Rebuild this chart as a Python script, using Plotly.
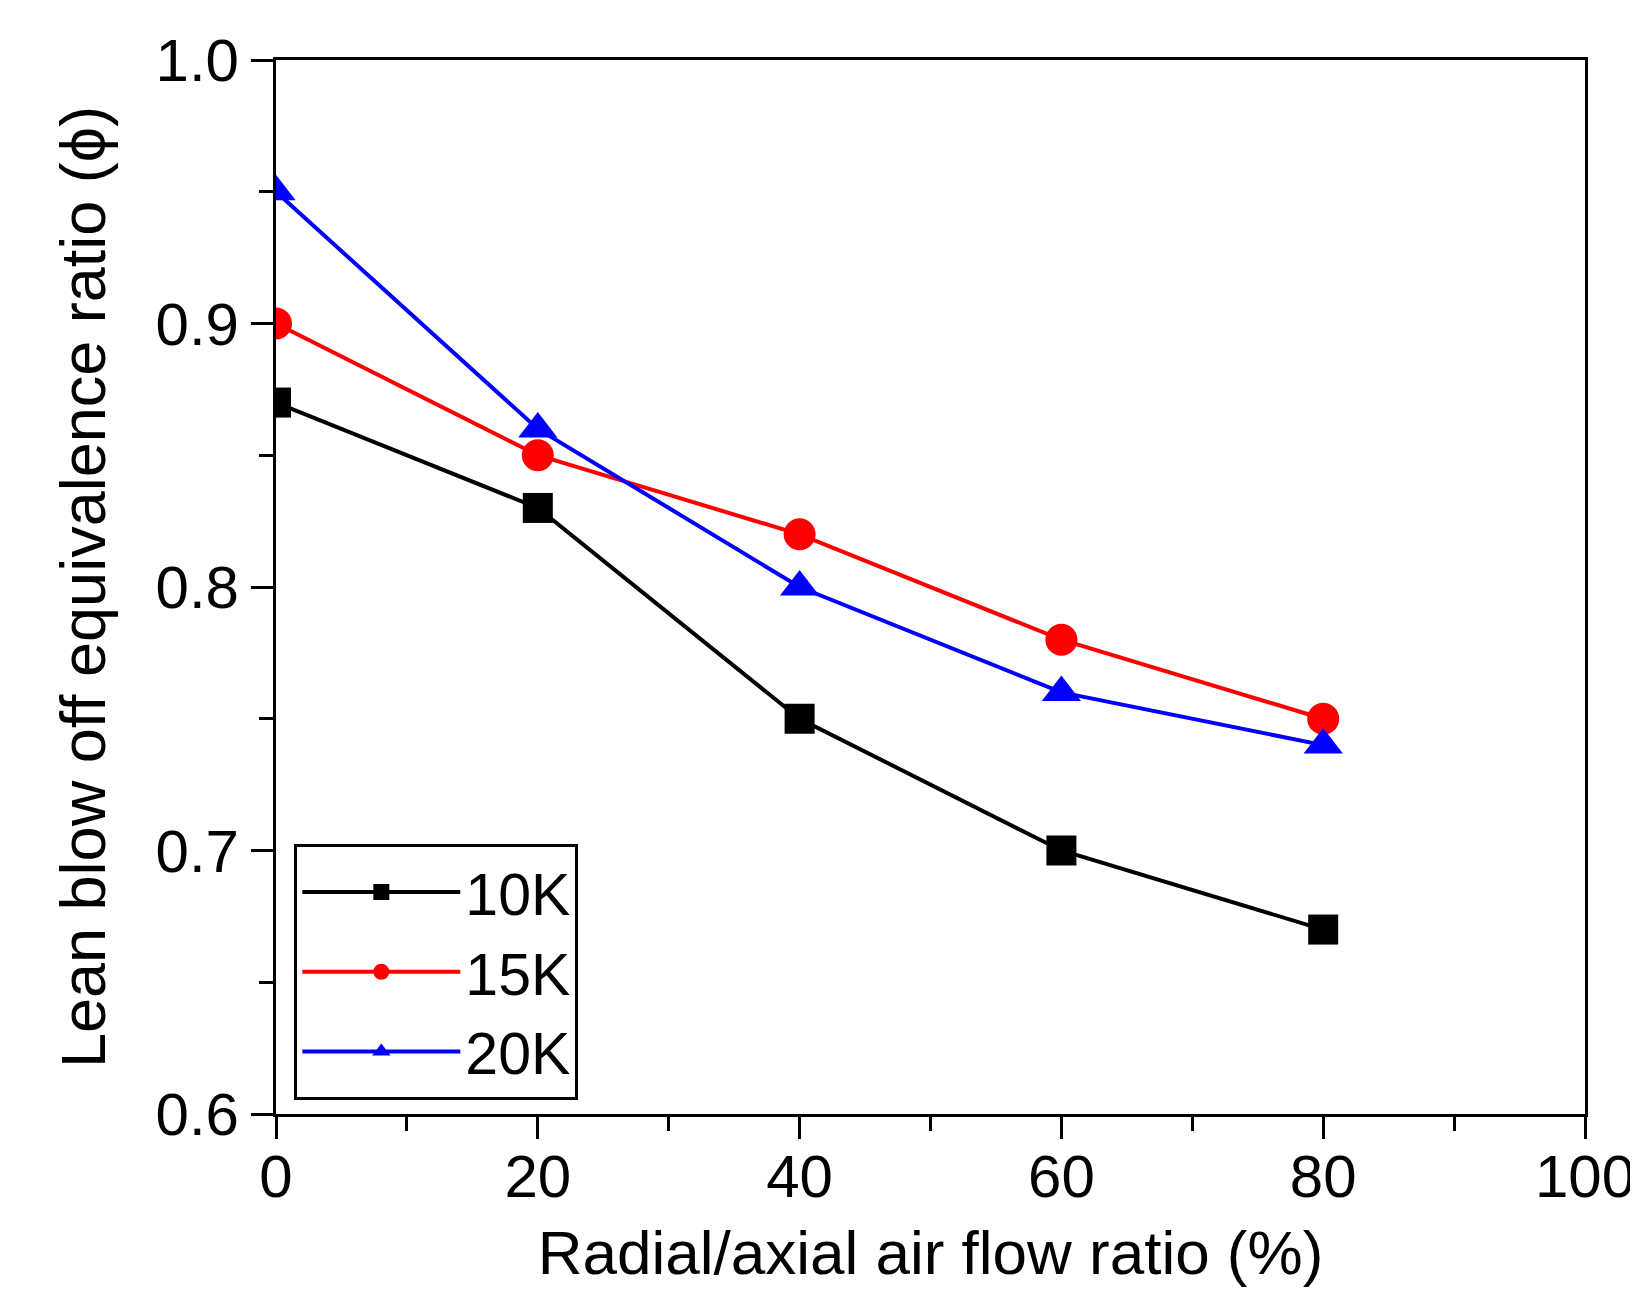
import plotly.graph_objects as go

flow_ratio = [0, 20, 40, 60, 80]
series_names = ["10K", "15K", "20K"]
phi_10k = [0.87, 0.83, 0.75, 0.70, 0.67]
phi_15k = [0.90, 0.85, 0.82, 0.78, 0.75]
phi_20k = [0.95, 0.86, 0.80, 0.76, 0.74]

colors = ["#000000", "#FF0000", "#0000FF"]
symbols = ["square", "circle", "triangle-up"]
sizes = [30, 32, 34]

FONT = "Arial, Liberation Sans, sans-serif"

fig = go.Figure()
for name, vals, c, s, sz in zip(series_names, [phi_10k, phi_15k, phi_20k], colors, symbols, sizes):
    fig.add_trace(go.Scatter(
        x=flow_ratio, y=vals, name=name, mode="lines+markers",
        line=dict(color=c, width=4),
        marker=dict(symbol=s, size=sz, color=c, line=dict(width=0)),
    ))

axis_common = dict(
    showline=True, linecolor="black", linewidth=3, mirror=True,
    ticks="outside", ticklen=22, tickwidth=2.5, tickcolor="black",
    showgrid=False, zeroline=False, automargin=False,
    tickfont=dict(family=FONT, size=60, color="black"),
)

fig.update_layout(
    width=1628, height=1284,
    paper_bgcolor="white", plot_bgcolor="white",
    margin=dict(l=268, r=51, t=52, b=178),
    font=dict(family=FONT, color="black"),
    xaxis=dict(range=[0, 100], tick0=0, dtick=20, ticklabelstandoff=-14,
               minor=dict(ticks="outside", ticklen=14, tickwidth=2.5, tickcolor="black", dtick=10),
               title=dict(text="Radial/axial air flow ratio (%)", font=dict(family=FONT, size=62), standoff=22),
               **axis_common),
    yaxis=dict(range=[0.6, 1.0], tick0=0.6, dtick=0.1, tickformat=".1f",
               minor=dict(ticks="outside", ticklen=14, tickwidth=2.5, tickcolor="black", dtick=0.05),
               title=dict(text="Lean blow off equivalence ratio (ϕ)", font=dict(family=FONT, size=63), standoff=30),
               **axis_common),
    legend=dict(x=0.014, y=0.256, xanchor="left", yanchor="top",
                bordercolor="black", borderwidth=3, bgcolor="white",
                font=dict(family=FONT, size=59, color="black"),
                itemwidth=158, itemsizing="trace", tracegroupgap=0),
)

fig.write_html("out.html")
